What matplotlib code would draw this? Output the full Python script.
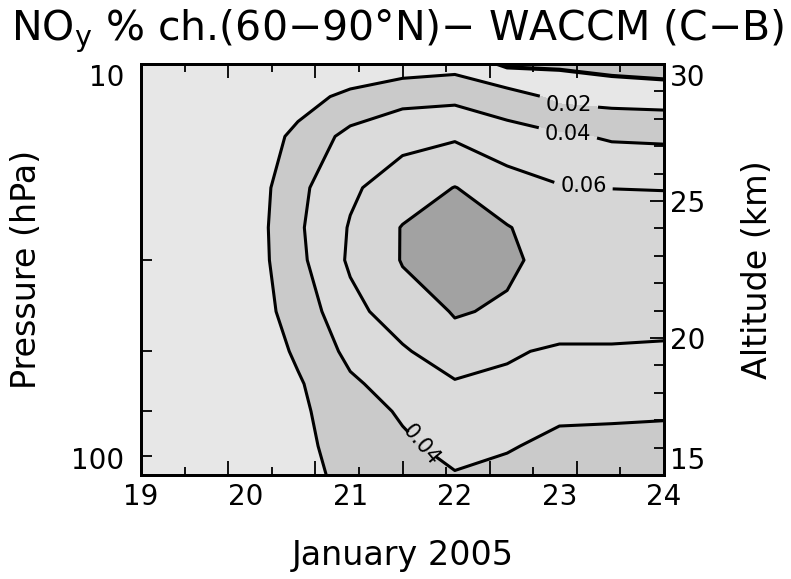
import numpy as np
import matplotlib
matplotlib.use('Agg')
import matplotlib.pyplot as plt
from matplotlib.ticker import FixedLocator, NullFormatter

# ---- data ----
days = [19, 19.5, 20, 20.5, 21, 21.5, 22, 22.5, 23, 23.5, 24]
pressure = [10, 12, 15, 20, 25, 30, 40, 50, 60, 70, 85, 100]

# NOy % change, one column per day, values ordered by pressure
col_19_0 = [0.006, 0.006, 0.005, 0.005, 0.005, 0.005, 0.005, 0.004, 0.004, 0.004, 0.005, 0.005]
col_19_5 = [0.005, 0.005, 0.005, 0.006, 0.006, 0.006, 0.006, 0.005, 0.005, 0.005, 0.006, 0.006]
col_20_0 = [0.002, 0.003, 0.004, 0.006, 0.007, 0.0075, 0.0075, 0.005, 0.005, 0.006, 0.007, 0.008]
col_20_5 = [0.004, 0.012, 0.0253, 0.035, 0.037, 0.035, 0.029, 0.023, 0.0178, 0.016, 0.015, 0.0141]
col_21_0 = [0.005, 0.025, 0.046, 0.057, 0.0615, 0.063, 0.053, 0.0449, 0.0367, 0.032, 0.028, 0.025]
col_21_5 = [0.010, 0.034, 0.055, 0.0697, 0.081, 0.081, 0.072, 0.057, 0.049, 0.042, 0.037, 0.032]
col_22_0 = [0.0133, 0.0356, 0.058, 0.0805, 0.088, 0.090, 0.081, 0.0743, 0.0575, 0.052, 0.045, 0.039]
col_22_5 = [-0.003, 0.0289, 0.0485, 0.0698, 0.0809, 0.082, 0.0784, 0.062, 0.0565, 0.051, 0.0415, 0.035]
col_23_0 = [-0.003, 0.0154, 0.043, 0.0615, 0.071, 0.0758, 0.070, 0.0575, 0.050, 0.043, 0.0355, 0.031]
col_23_5 = [-0.007, 0.0133, 0.038, 0.0598, 0.068, 0.071, 0.066, 0.0585, 0.050, 0.0425, 0.035, 0.030]
col_24_0 = [-0.010, 0.0122, 0.037, 0.0595, 0.067, 0.070, 0.065, 0.058, 0.050, 0.042, 0.034, 0.029]

fill_levels = [-0.05, 0.0, 0.02, 0.04, 0.06, 0.08, 0.2]
labelled_levels = [0.02, 0.04, 0.06]
unlabelled_levels = [0.0, 0.08]
x_tick_labels = ['19', '20', '21', '22', '23', '24']
p_tick_labels = ['10', '100']
alt_tick_labels = ['15', '20', '25', '30']

# ---- figure ----
Z = np.array([col_19_0, col_19_5, col_20_0, col_20_5, col_21_0, col_21_5,
              col_22_0, col_22_5, col_23_0, col_23_5, col_24_0]).T
X, P = np.meshgrid(days, pressure)

fig = plt.figure(figsize=(7.91, 5.79), dpi=100)
ax = fig.add_axes([0.1783, 0.1796, 0.6612, 0.7098])

fill_colors = ['#c4c4c4', '#e7e7e7', '#cacaca', '#dbdbdb', '#d6d6d6', '#a2a2a2']
ax.contourf(X, P, Z, levels=fill_levels, colors=fill_colors)
ax.contour(X, P, Z, levels=unlabelled_levels, colors='black', linewidths=[3.0, 2.2])
cs = ax.contour(X, P, Z, levels=labelled_levels, colors='black', linewidths=2.2)
label_texts = ax.clabel(cs, fmt='%.2f', fontsize=15, inline=True, inline_spacing=6,
                        manual=[(23.09, 12.44), (23.08, 15.14), (23.23, 19.6),
                                (21.72, 84.0)])
for t, rot in zip(label_texts, [0, 0, 0, -50]):
    t.set_rotation(rot)

ax.set_yscale('log')
ax.set_xlim(19, 24)
ax.set_ylim(100, 10)

tick_font = 20
# labels at whole days, tick marks every 10 hours (long every 20 hours)
ax.set_xticks([float(t) for t in x_tick_labels])
ax.set_xticklabels(x_tick_labels, fontsize=tick_font)
ax.tick_params(axis='x', which='major', length=0, pad=6)

ax3 = ax.twiny()
ax3.set_xlim(19, 24)
ax3.xaxis.set_major_locator(FixedLocator(np.linspace(19, 24, 7)))
ax3.xaxis.set_minor_locator(FixedLocator(np.linspace(19, 24, 13)))
ax3.tick_params(axis='x', which='major', length=10, width=1.3, direction='in',
                top=True, bottom=True, labeltop=False, labelbottom=False)
ax3.tick_params(axis='x', which='minor', length=6, width=1.3, direction='in',
                top=True, bottom=True)

ax.set_yticks([float(t) for t in p_tick_labels])
ax.set_yticklabels(p_tick_labels, fontsize=tick_font)
ax.yaxis.set_minor_locator(FixedLocator([30, 50, 70, 90]))
ax.yaxis.set_minor_formatter(NullFormatter())
ax.tick_params(axis='y', which='major', length=10, width=1.3, direction='in', pad=12)
ax.tick_params(axis='y', which='minor', length=8, width=1.3, direction='in')
ylabs = ax.get_yticklabels()
ylabs[0].set_va('top')
ylabs[1].set_va('bottom')

ax2 = ax.twinx()
ax2.set_ylim(float(alt_tick_labels[0]), float(alt_tick_labels[-1]))
ax2.set_yticks([float(t) for t in alt_tick_labels])
ax2.set_yticklabels(alt_tick_labels, fontsize=tick_font)
ax2.yaxis.set_minor_locator(FixedLocator(np.arange(15, 31, 1)))
ax2.tick_params(axis='y', which='major', length=10, width=1.3, direction='in', pad=4)
ax2.tick_params(axis='y', which='minor', length=7, width=1.3, direction='in')
alabs = ax2.get_yticklabels()
alabs[0].set_va('bottom')
alabs[-1].set_va('top')

for a in (ax, ax2, ax3):
    for s in a.spines.values():
        s.set_linewidth(2.0)

ax.set_ylabel('Pressure (hPa)', fontsize=24, labelpad=20)
ax2.set_ylabel('Altitude (km)', fontsize=24, labelpad=26)
ax.set_xlabel('January 2005', fontsize=24, labelpad=20)

fig.text(0.503, 0.946, r'NO$_\mathregular{y}$ % ch.(60−90°N)− WACCM (C−B)',
         ha='center', va='center', fontsize=29.5)

fig.savefig('out.png', dpi=100)
